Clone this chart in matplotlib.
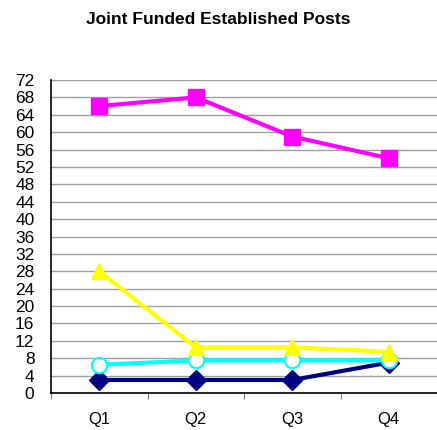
import matplotlib.pyplot as plt

plt.rcParams['font.family'] = ['Liberation Sans', 'DejaVu Sans']

quarters = ["Q1", "Q2", "Q3", "Q4"]
magenta_vals = [66, 68, 59, 54]
yellow_vals = [28, 10.5, 10.5, 9.5]
cyan_vals = [6.5, 7.5, 7.5, 7.5]
navy_vals = [3, 3, 3, 7]
yticks = list(range(0, 73, 4))

x = list(range(len(quarters)))

fig = plt.figure(figsize=(4.37, 4.30), dpi=100)
ax = fig.add_axes([0.117, 0.086, 0.883, 0.728])

ax.plot(x, navy_vals, color="#000080", lw=3, marker="D", ms=10, zorder=3)
ax.plot(x, cyan_vals, color="#00FFFF", lw=3, marker="o", ms=11,
        mfc="white", mec="#00FFFF", mew=1.5, zorder=4)
ax.plot(x, yellow_vals, color="#FFFF00", lw=3, marker="^", ms=12, zorder=5)
ax.plot(x, magenta_vals, color="#FF00FF", lw=3, marker="s", ms=11, zorder=6)

ax.set_ylim(0, 72)
ax.set_yticks(yticks)
ax.set_xlim(-0.5, 3.4)
ax.set_xticks([i - 0.5 for i in range(5)])
ax.set_xticklabels([])
ax.set_xticks(x, minor=True)
ax.set_xticklabels(quarters, minor=True)
ax.tick_params(axis="x", which="minor", length=0, pad=14, labelsize=12)
ax.tick_params(axis="x", which="major", length=4, direction="out", color="#808080")
ax.tick_params(axis="y", length=0, labelsize=12.5, pad=12)

ax.yaxis.grid(True, color="#a0a0a0", lw=1)
ax.set_axisbelow(True)
ax.spines["top"].set_visible(False)
ax.spines["right"].set_visible(False)
ax.spines["left"].set_linewidth(1.2)
ax.spines["bottom"].set_linewidth(1.2)

fig.text(0.5, 0.955, "Joint Funded Established Posts", ha="center", va="center",
         fontsize=12.5, fontweight="bold")

plt.savefig("out.png")
